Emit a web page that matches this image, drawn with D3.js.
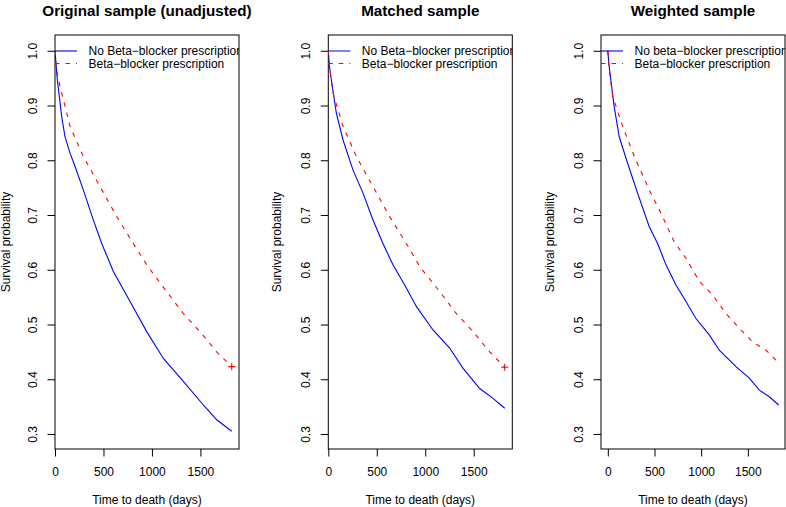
<!DOCTYPE html>
<html><head><meta charset="utf-8">
<script src="https://cdn.jsdelivr.net/npm/d3@7"></script>
<style>body{margin:0;background:#fff}svg{display:block;font-family:"Liberation Sans",Arial,sans-serif}</style>
</head><body>
<svg id="c" width="786" height="507"></svg>
<script>
// ---- data ----
const titles = ["Original sample (unadjusted)", "Matched sample", "Weighted sample"];
const legendLabels = [
  ["No Beta\u2212blocker prescription", "Beta\u2212blocker prescription"],
  ["No Beta\u2212blocker prescription", "Beta\u2212blocker prescription"],
  ["No beta\u2212blocker prescription", "Beta\u2212blocker prescription"]
];
const xTicks = [0, 500, 1000, 1500];
const yTicks = [0.3, 0.4, 0.5, 0.6, 0.7, 0.8, 0.9, 1.0];
const xLabel = "Time to death (days)";
const yLabel = "Survival probability";

const origNoBB = [[0,1],[10,0.977],[24,0.947],[45,0.916],[69,0.880],[103,0.843],[155,0.813],[206,0.789],[292,0.746],[395,0.691],[482,0.648],[602,0.597],[774,0.542],[946,0.487],[1118,0.438],[1324,0.396],[1530,0.353],[1668,0.326],[1823,0.305]];
const origBB = [[0,1],[10,0.977],[24,0.958],[52,0.935],[155,0.862],[292,0.807],[464,0.752],[637,0.697],[808,0.648],[946,0.609],[1152,0.560],[1324,0.520],[1496,0.487],[1668,0.450],[1823,0.423]];
const matchNoBB = [[0,1],[10,0.975],[31,0.947],[83,0.886],[152,0.837],[255,0.782],[358,0.740],[461,0.691],[564,0.648],[667,0.609],[788,0.572],[908,0.533],[1080,0.490],[1252,0.457],[1390,0.420],[1562,0.383],[1699,0.365],[1820,0.347]];
const matchBB = [[0,1],[10,0.975],[48,0.923],[152,0.862],[289,0.807],[461,0.752],[633,0.697],[805,0.648],[943,0.606],[1149,0.560],[1321,0.520],[1493,0.487],[1665,0.450],[1820,0.422]];
const weightNoBB = [[0,1],[12,0.975],[32,0.947],[68,0.898],[122,0.843],[211,0.795],[319,0.740],[443,0.679],[533,0.648],[623,0.609],[730,0.572],[837,0.542],[944,0.511],[1087,0.481],[1194,0.453],[1373,0.423],[1516,0.402],[1623,0.380],[1730,0.368],[1830,0.353]];
const weightBB = [[0,1],[12,0.97],[52,0.917],[159,0.862],[284,0.807],[443,0.746],[587,0.697],[711,0.651],[837,0.621],[980,0.579],[1123,0.554],[1266,0.520],[1409,0.493],[1552,0.468],[1695,0.453],[1830,0.430]];
const censorEnd = [true, true, false];

const series = [[origNoBB, origBB],[matchNoBB, matchBB],[weightNoBB, weightBB]];

// ---- layout ----
const panels = [
  {left:55, right:239, xdom:[0,1898]},
  {left:328.3, right:512.3, xdom:[0,1898]},
  {left:601, right:785, xdom:[-73,1898]}
];
const plotTop = 35, plotBottom = 449;
const yDom = [0.2726, 1.0288];
const FS = 12;
const svg = d3.select("#c");
svg.append("rect").attr("width",786).attr("height",507).attr("fill","#fff");

panels.forEach((p, i) => {
  const x = d3.scaleLinear().domain(p.xdom).range([p.left, p.right]);
  const y = d3.scaleLinear().domain(yDom).range([plotBottom, plotTop]);
  const g = svg.append("g");
  const clipId = "clip" + i;
  svg.append("clipPath").attr("id", clipId).append("rect")
    .attr("x", p.left).attr("y", plotTop).attr("width", p.right - p.left).attr("height", plotBottom - plotTop);

  // axes
  const xa = g.append("g").attr("transform", `translate(0,${plotBottom})`)
    .call(d3.axisBottom(x).tickValues(xTicks).tickSize(7.5).tickPadding(12).tickFormat(d3.format("d")));
  const ya = g.append("g").attr("transform", `translate(${p.left},0)`)
    .call(d3.axisLeft(y).tickValues(yTicks).tickSize(7.5).tickFormat(d3.format(".1f")));
  [xa, ya].forEach(a => {
    a.select(".domain").remove();
    a.selectAll(".tick line").attr("stroke", "#000").attr("stroke-width", 1);
    a.selectAll("text").attr("font-size", FS).attr("fill", "#000").attr("font-family", "Liberation Sans, Arial, sans-serif");
  });
  xa.selectAll(".tick text").attr("dy", null).attr("y", 26.5);
  ya.selectAll(".tick text")
    .attr("x", null).attr("dy", null).attr("text-anchor", "middle")
    .attr("transform", `translate(-18.5,0) rotate(-90)`)
    .attr("y", 0);
  g.append("rect").attr("x", p.left).attr("y", plotTop).attr("width", p.right - p.left).attr("height", plotBottom - plotTop)
    .attr("fill", "none").attr("stroke", "#000").attr("stroke-width", 1);

  // labels
  g.append("text").attr("x", (p.left + p.right) / 2).attr("y", 15.5).attr("text-anchor", "middle")
    .attr("font-size", 15.2).attr("font-weight", "bold").text(titles[i]);
  g.append("text").attr("x", (p.left + p.right) / 2).attr("y", 504).attr("text-anchor", "middle")
    .attr("font-size", FS).text(xLabel);
  const yl = Math.max(p.left - 47.5, 10);
  g.append("text").attr("transform", `translate(${yl},${(plotTop + plotBottom) / 2}) rotate(-90)`)
    .attr("text-anchor", "middle").attr("font-size", FS).text(yLabel);

  // curves
  const line = d3.line().x(d => x(d[0])).y(d => y(d[1]));
  const pg = g.append("g").attr("clip-path", `url(#${clipId})`);
  pg.append("path").datum(series[i][0]).attr("d", line).attr("fill", "none")
    .attr("stroke", "#0000ff").attr("stroke-width", 1.1);
  pg.append("path").datum(series[i][1]).attr("d", line).attr("fill", "none")
    .attr("stroke", "#ff0000").attr("stroke-width", 1.1).attr("stroke-dasharray", "4.5,6");
  if (censorEnd[i]) {
    const last = series[i][1][series[i][1].length - 1];
    const cx = x(last[0]), cy = y(last[1]);
    pg.append("path").attr("d", `M${cx-3.5},${cy}H${cx+3.5}M${cx},${cy-3.5}V${cy+3.5}`)
      .attr("stroke", "#ff0000").attr("stroke-width", 1.1);
  }

  // legend (top-left, no box), clipped to plot area
  const lg = g.append("g").attr("clip-path", `url(#${clipId})`);
  const ly = [51, 63.5];
  lg.append("line").attr("x1", p.left).attr("x2", p.left + 22).attr("y1", ly[0]).attr("y2", ly[0])
    .attr("stroke", "#0000ff").attr("stroke-width", 1.1);
  lg.append("line").attr("x1", p.left).attr("x2", p.left + 22).attr("y1", ly[1]).attr("y2", ly[1])
    .attr("stroke", "#ff0000").attr("stroke-width", 1.1).attr("stroke-dasharray", "4.5,6");
  legendLabels[i].forEach((t, k) => {
    lg.append("text").attr("x", p.left + 33.5).attr("y", ly[k] + 4.2).attr("font-size", FS).text(t);
  });
});
</script>
</body></html>
